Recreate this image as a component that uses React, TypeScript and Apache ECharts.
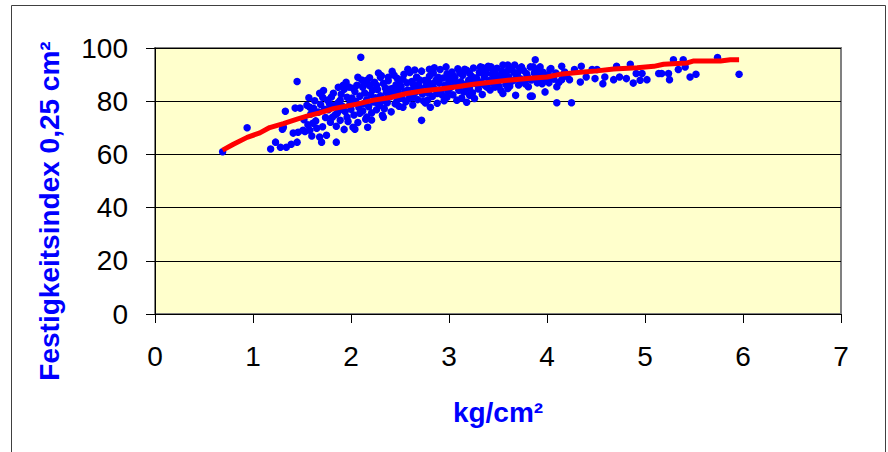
import React, { useEffect, useRef } from "react";
import * as echarts from "echarts";

// Tick values
const xTicks = [0, 1, 2, 3, 4, 5, 6, 7];
const yTicks = [0, 20, 40, 60, 80, 100];

const xTitle = "kg/cm²";
const yTitle = "Festigkeitsindex 0,25 cm²";

// Measured points [kg/cm², Festigkeitsindex]
const pointsLow: number[][] = [
  [0.69, 61.0], [0.94, 70.0],
  [1.18, 62.0], [1.23, 64.6], [1.28, 62.7], [1.34, 62.7], [1.39, 63.8], [1.45, 64.6],
  [1.30, 69.5], [1.31, 70.2], [1.33, 76.2], [1.43, 77.4], [1.48, 77.4], [1.45, 87.4],
  [1.41, 68.0], [1.46, 68.3], [1.51, 69.1], [1.53, 68.6], [1.58, 69.1],
  [1.55, 78.5], [1.58, 77.7], [1.61, 71.7], [1.65, 69.8], [1.68, 66.5], [1.70, 64.6],
  [1.68, 83.0], [1.71, 81.5], [1.76, 80.4], [1.85, 64.6], [1.81, 74.0], [1.86, 75.5],
  [1.82, 83.0], [1.87, 85.2], [1.92, 86.0], [1.89, 80.4], [1.96, 81.5], [1.99, 79.2],
  [1.89, 72.8], [1.96, 74.0], [2.02, 70.2], [2.04, 69.5],
  [1.52, 73.0], [1.56, 71.1], [1.59, 75.2], [1.62, 77.3], [1.64, 72.6], [1.67, 75.9],
  [1.69, 78.8], [1.71, 70.4], [1.73, 77.0], [1.74, 73.9], [1.77, 76.8], [1.79, 72.1],
  [1.80, 81.6], [1.83, 78.4], [1.84, 74.9], [1.85, 70.6], [1.87, 79.5], [1.88, 76.6],
  [1.63, 80.2], [1.72, 84.0], [1.78, 79.0], [1.57, 81.3], [1.60, 66.9], [1.75, 67.2],
  [1.93, 69.4],
];

const pointsMid: number[][] = [
  [2.06, 86.0], [2.12, 85.2], [2.16, 87.9], [2.17, 86.7], [2.10, 96.5], [2.09, 75.5],
  [2.16, 74.0], [2.17, 70.2], [2.22, 84.1], [2.30, 89.0], [2.33, 86.7], [2.38, 89.0],
  [2.27, 79.2], [2.32, 74.7], [2.33, 74.0], [2.50, 87.9], [2.47, 80.4], [2.53, 77.7],
  [2.63, 86.7], [2.67, 89.0], [2.58, 92.0], [2.72, 72.8], [2.70, 85.2], [2.78, 87.9],
  [2.80, 92.0], [2.84, 86.7], [2.89, 89.0], [2.78, 80.4], [2.81, 77.7], [2.88, 79.2],
  [2.63, 81.5],
  [2.98, 89.0], [3.04, 89.7], [3.08, 86.7], [3.16, 92.0], [3.21, 90.5], [3.29, 87.9],
  [3.34, 92.7], [3.40, 92.7], [3.47, 90.5], [2.98, 81.5], [3.08, 80.4], [3.18, 79.6],
  [3.21, 82.2], [3.32, 86.7], [3.39, 85.2], [3.45, 86.7],
  [1.91, 78.2], [1.93, 84.5], [1.94, 76.1], [1.97, 72.4], [1.98, 85.3], [2.00, 77.0],
  [2.01, 81.2], [2.03, 74.8], [2.04, 83.6], [2.05, 79.9], [2.07, 72.0], [2.08, 77.6],
  [2.09, 81.9], [2.11, 88.0], [2.12, 76.3], [2.13, 79.0], [2.14, 83.1], [2.15, 73.2],
  [2.16, 80.5], [2.18, 77.9], [2.19, 85.8], [2.20, 82.4], [2.21, 75.6],
  [2.23, 79.7], [2.24, 87.1], [2.25, 81.3], [2.26, 76.8], [2.27, 84.4], [2.29, 78.4],
  [2.30, 82.0], [2.31, 89.6], [2.32, 80.1], [2.34, 77.2], [2.35, 85.0], [2.36, 83.3],
  [2.37, 79.4], [2.38, 87.7], [2.40, 81.7], [2.41, 76.0], [2.42, 84.8], [2.43, 82.6],
  [2.44, 89.8], [2.45, 79.0], [2.46, 86.2], [2.48, 83.9], [2.49, 78.1],
  [2.51, 85.6], [2.52, 81.1], [2.53, 88.3], [2.55, 83.7], [2.56, 79.8], [2.57, 86.9],
  [2.58, 84.2], [2.60, 90.8], [2.61, 82.0], [2.62, 87.4], [2.63, 78.6], [2.64, 85.1],
  [2.66, 83.4], [2.67, 88.9], [2.68, 80.6], [2.69, 86.2], [2.71, 84.6], [2.72, 91.3],
  [2.73, 82.7], [2.75, 87.8], [2.76, 79.3], [2.77, 85.9], [2.79, 83.1],
  [2.80, 89.4], [2.82, 86.3], [2.83, 81.8], [2.84, 90.6], [2.86, 84.4], [2.87, 88.1],
  [2.88, 82.9], [2.90, 86.8], [2.91, 91.9], [2.92, 84.0], [2.94, 88.7], [2.95, 80.2],
  [2.96, 86.0], [2.98, 90.3], [2.99, 83.6], [3.00, 87.5], [3.02, 85.2], [3.03, 91.0],
  [3.04, 82.4], [3.06, 88.9], [3.07, 85.9], [3.09, 92.2], [3.10, 84.1],
  [3.12, 87.3], [3.13, 81.2], [3.14, 89.8], [3.16, 86.2], [3.17, 84.3], [3.18, 91.6],
  [3.20, 87.9], [3.21, 85.0], [3.23, 89.4], [3.24, 83.2], [3.25, 92.5], [3.27, 86.7],
  [3.28, 88.8], [3.30, 84.6], [3.31, 90.9], [3.33, 87.0], [3.34, 82.5], [3.36, 89.2],
  [3.37, 85.8], [3.38, 91.8],
  [1.90, 82.6], [1.95, 87.1], [2.02, 84.9], [2.07, 89.0], [2.13, 86.3], [2.19, 88.8],
  [2.21, 72.9], [2.26, 86.0], [2.28, 90.6], [2.35, 80.7], [2.39, 84.5], [2.42, 91.2],
  [2.47, 88.6], [2.54, 90.1], [2.59, 80.9], [2.65, 91.7], [2.70, 88.0], [2.74, 80.1],
  [2.81, 84.9], [2.85, 92.6], [2.93, 82.3], [2.97, 92.9], [3.05, 87.6], [3.11, 90.6],
  [3.15, 83.5], [3.22, 88.0], [3.26, 81.0], [3.35, 90.4],
];

const pointsHigh: number[][] = [
  [3.41, 87.8], [3.42, 84.2], [3.44, 90.1], [3.46, 88.3], [3.47, 85.3], [3.49, 92.4],
  [3.50, 87.1], [3.52, 89.7], [3.53, 84.0], [3.56, 88.6], [3.58, 86.3], [3.59, 91.2],
  [3.61, 89.0], [3.62, 85.6], [3.64, 92.0], [3.65, 87.7], [3.70, 90.5], [3.71, 86.1],
  [3.73, 88.4], [3.76, 91.5], [3.77, 87.2], [3.80, 89.3], [3.81, 85.4], [3.84, 88.0],
  [3.87, 90.6], [3.90, 86.9], [3.91, 92.1], [3.94, 88.8], [3.96, 90.9], [3.99, 87.6],
  [4.01, 89.9], [4.04, 92.3], [4.07, 88.3], [4.09, 90.6], [4.12, 87.0], [4.18, 91.0],
  [4.20, 89.4],
  [3.43, 92.9], [3.51, 85.5], [3.54, 91.4], [3.63, 88.0], [3.66, 90.9], [3.72, 92.4],
  [3.78, 86.5], [3.92, 89.5], [4.02, 86.9],
  [3.32, 92.9], [3.40, 93.1], [3.38, 90.4], [3.45, 91.0], [3.48, 89.1], [3.55, 93.6],
  [3.60, 93.6], [3.57, 90.4], [3.55, 82.9], [3.60, 84.8], [3.67, 93.6], [3.69, 89.1],
  [3.68, 82.2], [3.74, 92.9], [3.79, 90.4], [3.83, 92.9], [3.86, 92.9], [3.88, 95.6],
  [3.89, 90.4], [3.93, 92.9], [3.95, 86.6], [3.98, 83.5], [3.83, 81.9], [3.85, 81.9],
  [4.03, 91.9], [4.05, 89.1], [4.10, 85.4], [4.15, 93.1], [4.15, 88.1], [4.10, 79.4],
  [4.25, 79.4], [4.23, 88.1], [4.28, 91.9], [4.35, 93.1], [4.34, 87.2], [4.40, 89.1],
  [4.46, 91.9], [4.49, 88.5], [4.51, 91.9], [4.57, 86.6], [4.59, 89.1], [4.68, 88.1],
  [4.71, 93.1], [4.74, 89.1], [4.81, 88.5], [4.85, 93.9], [4.88, 86.8], [4.91, 90.4],
  [4.95, 87.9], [4.97, 90.4], [5.02, 88.1], [5.14, 90.4], [5.17, 90.4], [5.25, 88.1],
  [5.24, 90.4], [5.29, 95.6], [5.34, 91.9], [5.39, 95.6], [5.41, 92.9], [5.46, 89.1],
  [5.52, 90.1], [5.74, 96.4], [5.96, 90.1],
];

// Trend line (red)
const trendX = [0.69, 0.80, 0.94, 1.07, 1.17, 1.31, 1.45, 1.55, 1.68, 1.82, 2.06, 2.23,
  2.40, 2.57, 2.74, 2.91, 3.08, 3.25, 3.49, 3.66, 3.83, 4.00, 4.13, 4.34, 4.51, 4.68,
  4.92, 5.09, 5.19, 5.43, 5.49, 5.77, 5.87, 5.96];
const trendY = [61.6, 63.8, 66.4, 68.1, 70.1, 71.6, 73.3, 74.4, 75.6, 77.2, 78.9, 80.4,
  81.4, 82.9, 83.9, 84.6, 85.4, 86.4, 87.4, 88.1, 88.6, 89.1, 90.1, 90.9, 91.4, 92.1,
  92.6, 93.1, 93.9, 94.4, 95.1, 95.1, 95.6, 95.6];

const FONT = "'Liberation Sans', Arial, sans-serif";

export default function App() {
  const ref = useRef<HTMLDivElement>(null);
  useEffect(() => {
    if (!ref.current) return;
    const chart = echarts.init(ref.current, undefined, { renderer: "svg" });
    const scatterData = [...pointsLow, ...pointsMid, ...pointsHigh];
    const trendData = trendX.map((x, i) => [x, trendY[i]]);
    chart.setOption({
      animation: false,
      backgroundColor: "#ffffff",
      grid: {
        left: 155,
        top: 48,
        right: 47,
        bottom: 138,
        show: true,
        backgroundColor: "#FFFFCC",
        borderColor: "#808080",
        borderWidth: 2,
      },
      xAxis: {
        type: "value",
        min: xTicks[0],
        max: xTicks[xTicks.length - 1],
        interval: 1,
        name: xTitle,
        nameLocation: "middle",
        nameGap: 98,
        nameTextStyle: {
          color: "#0000FF",
          fontFamily: FONT,
          fontSize: 28,
          fontWeight: "bold",
          verticalAlign: "middle",
        },
        axisLine: { show: true, onZero: false, lineStyle: { color: "#000", width: 1 } },
        axisTick: { show: true, inside: false, length: 9, lineStyle: { color: "#000" } },
        axisLabel: { color: "#000", fontFamily: FONT, fontSize: 28, margin: 28 },
        splitLine: { show: false },
      },
      yAxis: {
        type: "value",
        min: yTicks[0],
        max: yTicks[yTicks.length - 1],
        interval: 20,
        axisLine: { show: true, onZero: false, lineStyle: { color: "#000", width: 1 } },
        axisTick: { show: true, inside: false, length: 9, lineStyle: { color: "#000" } },
        axisLabel: { color: "#000", fontFamily: FONT, fontSize: 28, margin: 27 },
        splitLine: { show: true, lineStyle: { color: "#000", width: 1 } },
      },
      graphic: [
        {
          type: "rect",
          shape: { x: 11.5, y: 5.5, width: 874, height: 470 },
          style: { fill: "none", stroke: "#404040", lineWidth: 1 },
          silent: true,
        },
        {
          type: "text",
          x: 49.5,
          y: 211,
          rotation: Math.PI / 2,
          style: {
            text: yTitle,
            fill: "#0000FF",
            font: `bold 28px ${FONT}`,
            align: "center",
            verticalAlign: "middle",
          },
        },
      ],
      series: [
        {
          type: "scatter",
          data: scatterData,
          symbol: "circle",
          symbolSize: 7.5,
          itemStyle: { color: "#0000FF", opacity: 1 },
          z: 2,
        },
        {
          type: "line",
          data: trendData,
          showSymbol: false,
          symbol: "none",
          lineStyle: { color: "#FF0000", width: 5 },
          z: 3,
        },
      ],
    });
    return () => chart.dispose();
  }, []);
  return (
    <div
      ref={ref}
      style={{ position: "fixed", left: 0, top: 0, width: 888, height: 452, background: "#fff" }}
    />
  );
}
